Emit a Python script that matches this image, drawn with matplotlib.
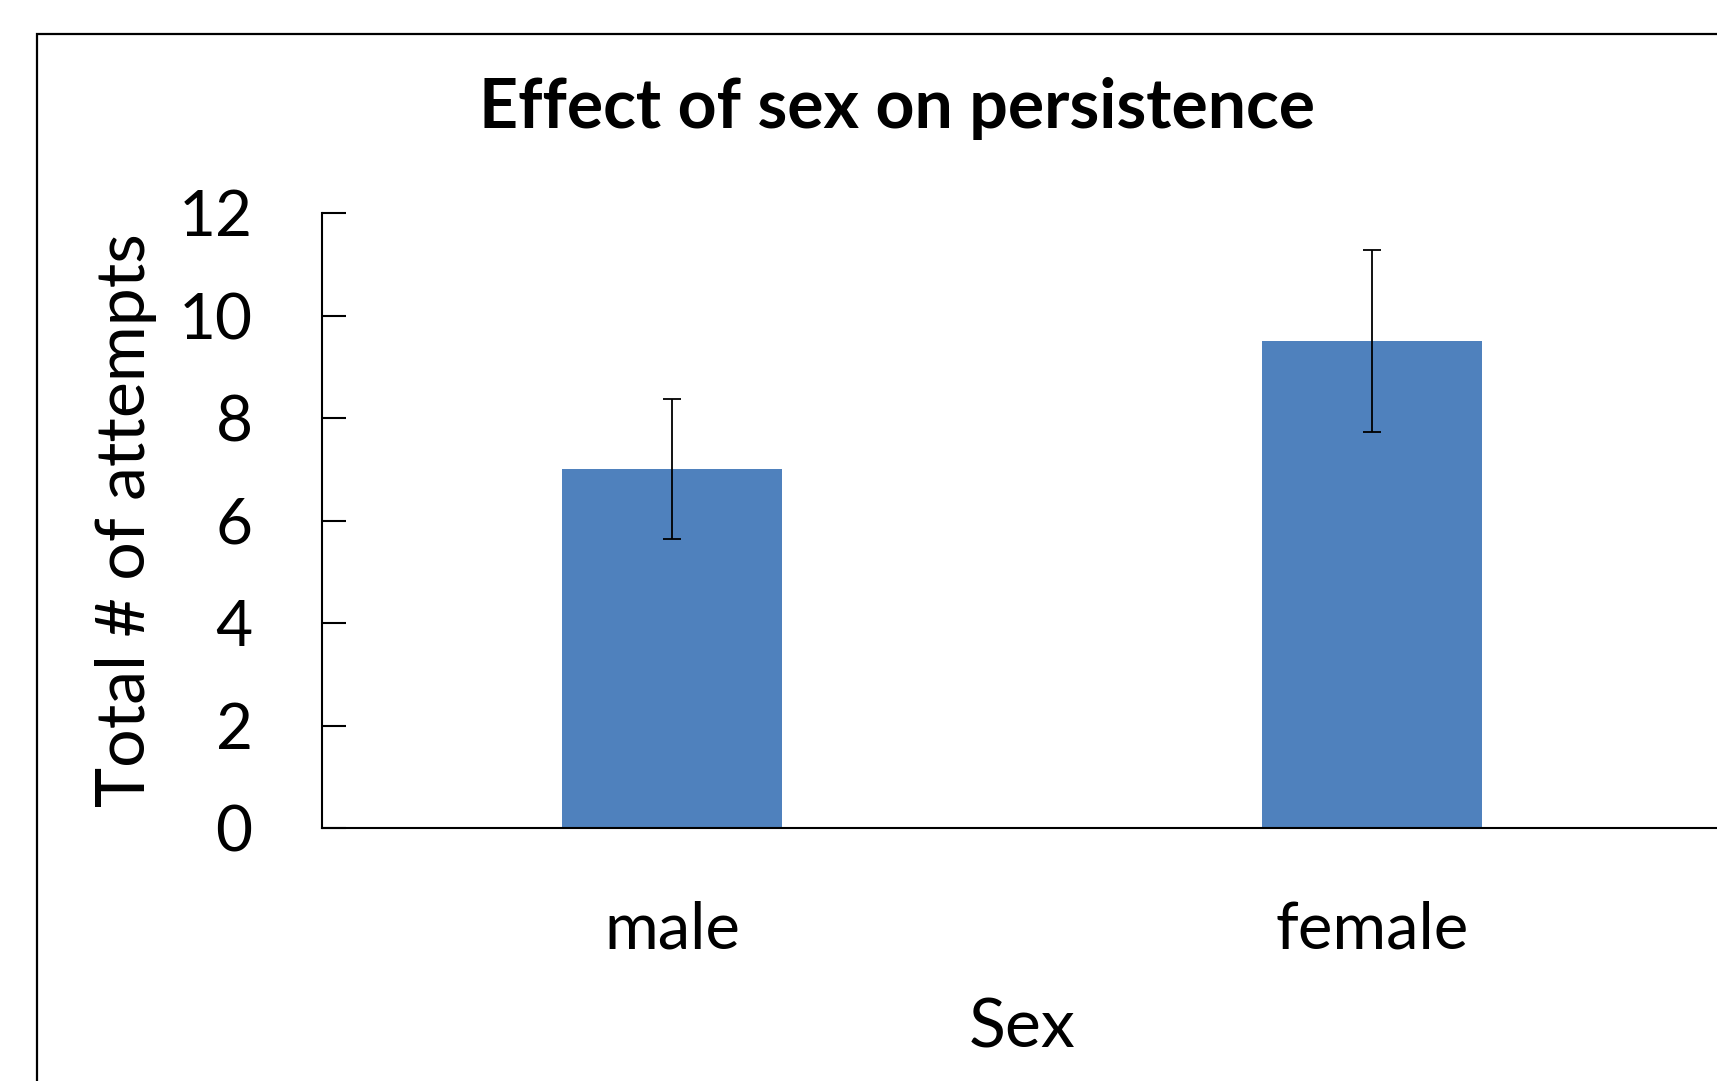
import matplotlib
matplotlib.use("Agg")
import matplotlib.pyplot as plt
from matplotlib.patches import Rectangle

# data
categories = ["male", "female"]
mean_attempts = [7.0, 9.5]
err_attempts = [1.37, 1.78]
y_ticks = [0, 2, 4, 6, 8, 10, 12]

W, H = 1717, 1081
plt.rcParams['font.family'] = ['Lato', 'DejaVu Sans']

fig = plt.figure(figsize=(W / 100, H / 100), dpi=100)

# outer chart border (cut off on the right and bottom like the original)
fig.add_artist(Rectangle((37 / W, -0.1), 1.2, 1 - 34 / H + 0.1, transform=fig.transFigure,
                         fill=False, edgecolor="black", linewidth=1.6, clip_on=False))

ax = fig.add_axes([322 / W, 253 / H, 1400 / W, 615 / H])
x = range(len(categories))
ax.bar(x, mean_attempts, width=0.314, color="#4F81BD", zorder=2)
ax.errorbar(x, mean_attempts, yerr=err_attempts, fmt="none", ecolor="black",
            elinewidth=1.3, capsize=6.5, capthick=1.3, zorder=3)

ax.set_xlim(-0.5, 1.5)
ax.set_ylim(0, 12)
ax.set_yticks(y_ticks)
ax.set_xticks(list(x))
ax.set_xticklabels(categories)
ax.spines["top"].set_visible(False)
ax.spines["right"].set_visible(False)
ax.spines["left"].set_linewidth(1.5)
ax.spines["bottom"].set_linewidth(1.5)
ax.tick_params(axis="y", direction="in", length=17, width=1.5, labelsize=46, pad=50)
ax.tick_params(axis="x", length=0, labelsize=47, pad=52)

fig.text(897 / W, 1 - 108 / H, "Effect of sex on persistence", ha="center", va="center",
         fontsize=49, fontweight="bold")
fig.text(126 / W, 1 - 520 / H, "Total # of attempts", ha="center", va="center",
         rotation=90, fontsize=49)
fig.text(1022 / W, 1 - 1028 / H, "Sex", ha="center", va="center", fontsize=49)

fig.savefig("out.png", dpi=100)
